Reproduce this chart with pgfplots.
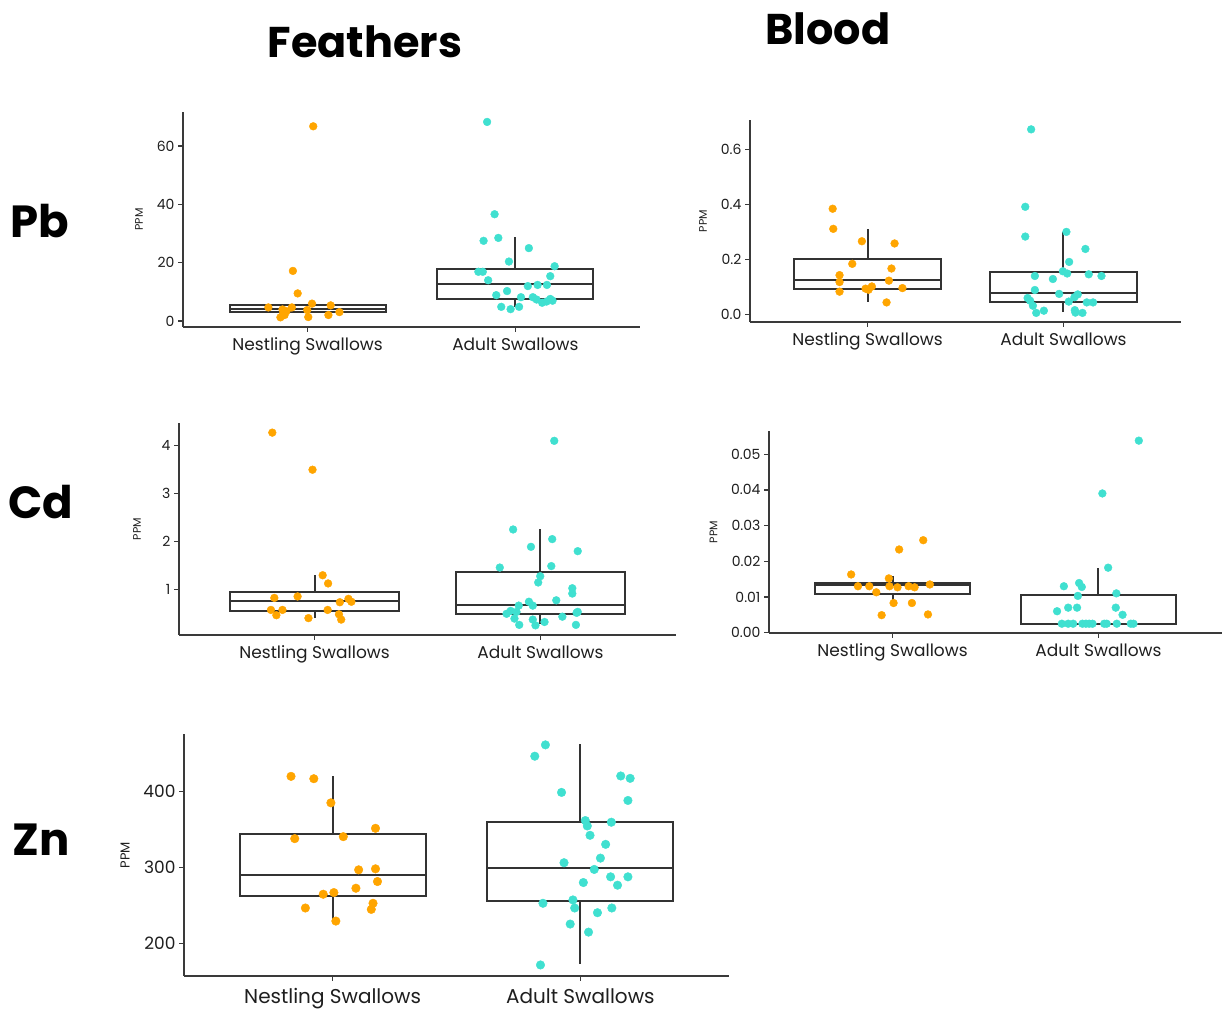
\documentclass[border=0pt]{standalone}
\usepackage{fontspec}
\setmainfont{Poppins}
\usepackage{pgfplots}
\pgfplotsset{compat=1.18}
\definecolor{orng}{HTML}{FFA500}
\definecolor{turq}{HTML}{40E0D0}
\definecolor{axc}{HTML}{3A3A3A}
\definecolor{boxc}{HTML}{333333}
\definecolor{txt}{HTML}{1E1E1E}
\pgfplotsset{
  swal/.style={
    scale only axis, anchor=south west, clip=false,
    axis x line*=bottom, axis y line*=left,
    axis line style={draw=axc, line width=1.3pt, -},
    x axis line style={-}, y axis line style={-},
    every tick/.style={draw=axc, line width=1.3pt},
    tick align=outside, major tick length=5pt,
    scaled y ticks=false,
    xmin=-0.6, xmax=1.6, xtick={0,1},
    xticklabels={Nestling Swallows, Adult Swallows},
    /pgf/number format/assume math mode=true,
    tick label style={font=\fontsize{14}{16}\selectfont, text=txt},
    x tick label style={font=\fontsize{17}{20}\selectfont, text=txt, yshift=-2pt},
    ylabel={PPM}, ylabel shift=7pt,
    ylabel style={font=\fontsize{11}{13}\selectfont, text=txt},
  },
  bx/.style={draw=boxc, line width=2pt, fill=white, solid, mark=none},
  bl/.style={draw=boxc, line width=2pt, solid, mark=none},
  ptn/.style={only marks, mark=*, mark size=3.9pt, color=orng},
  pta/.style={only marks, mark=*, mark size=3.9pt, color=turq},
}
% box: x-left, x-centre, x-right, lower whisker, q1, median, q3, upper whisker
\newcommand{\bbox}[8]{%
  \addplot[bl] coordinates {(#2,#4) (#2,#8)};
  \addplot[bx] coordinates {(#1,#5) (#3,#5) (#3,#7) (#1,#7)} --cycle;
  \addplot[bl] coordinates {(#1,#6) (#3,#6)};
}
\begin{document}
\begin{tikzpicture}[x=1pt,y=1pt]
\path[use as bounding box] (0,0) rectangle (1231,1014);
\node[font=\fontsize{43}{43}\selectfont\bfseries] at (365,972) {Feathers};
\node[font=\fontsize{43}{43}\selectfont\bfseries] at (828,985) {Blood};
\node[font=\fontsize{45}{45}\selectfont\bfseries] at (40,793) {Pb};
\node[font=\fontsize{45}{45}\selectfont\bfseries] at (41,512) {Cd};
\node[font=\fontsize{45}{45}\selectfont\bfseries] at (41,174) {Zn};

% ---------- Pb feathers
\begin{axis}[swal, at={(183pt,687pt)}, width=457pt, height=215pt,
  ymin=-2.0, ymax=71.6, ytick={0,20,40,60}, yticklabels={0,20,40,60}]
\bbox{-0.375}{0}{0.375}{1.3}{3.0}{4.2}{5.5}{6.0}
\bbox{0.625}{1}{1.375}{4.7}{7.5}{12.7}{17.7}{28.7}
\addplot[ptn] table {
x y
0.027 66.7
-0.071 17.2
-0.048 9.5
0.021 6.0
-0.189 4.7
-0.076 4.7
0.111 5.4
0.153 3.1
0.100 2.1
-0.002 3.8
0.003 1.4
-0.131 1.3
-0.118 2.6
-0.121 4.0
-0.102 3.4
-0.111 2.1
};
\addplot[pta] table {
x y
0.864 68.2
0.900 36.6
0.847 27.5
0.918 28.5
1.065 25.0
0.969 20.4
1.189 18.8
0.822 16.9
0.843 16.9
1.168 15.4
0.869 14.0
1.060 12.0
1.107 12.4
1.152 12.4
0.960 10.3
0.908 8.9
1.027 8.2
1.084 8.2
1.102 7.4
1.129 6.3
1.150 6.7
1.168 7.6
1.179 7.0
0.932 4.9
0.977 4.1
1.018 4.9
};
\end{axis}

% ---------- Pb blood
\begin{axis}[swal, at={(750pt,692pt)}, width=431pt, height=202pt,
  ymin=-0.026, ymax=0.707, ytick={0,0.2,0.4,0.6}, yticklabels={0.0,0.2,0.4,0.6}]
\bbox{-0.375}{0}{0.375}{0.048}{0.095}{0.125}{0.204}{0.313}
\bbox{0.625}{1}{1.375}{0.010}{0.047}{0.079}{0.155}{0.300}
\addplot[ptn] table {
x y
-0.178 0.385
-0.175 0.312
-0.029 0.267
0.138 0.259
-0.078 0.185
0.122 0.168
-0.143 0.144
-0.143 0.119
0.109 0.124
0.022 0.103
-0.010 0.095
0.005 0.091
0.178 0.097
-0.143 0.084
0.097 0.045
};
\addplot[pta] table {
x y
0.835 0.673
0.805 0.392
0.805 0.284
1.015 0.301
1.112 0.239
1.029 0.192
0.997 0.158
1.019 0.150
1.129 0.147
1.194 0.141
0.854 0.141
0.946 0.130
0.854 0.090
0.978 0.076
1.073 0.074
1.056 0.064
0.817 0.061
0.830 0.051
1.027 0.048
1.119 0.045
1.151 0.045
0.844 0.033
0.861 0.007
0.900 0.015
1.058 0.017
1.061 0.008
1.097 0.007
};
\end{axis}

% ---------- Cd feathers
\begin{axis}[swal, at={(179pt,379pt)}, width=497pt, height=212pt,
  ymin=0.06, ymax=4.46, ytick={1,2,3,4}, yticklabels={1,2,3,4}, ylabel shift=14pt]
\bbox{-0.375}{0}{0.375}{0.41}{0.55}{0.76}{0.95}{1.30}
\bbox{0.625}{1}{1.375}{0.29}{0.49}{0.68}{1.37}{2.25}
\addplot[ptn] table {
x y
-0.187 4.26
-0.009 3.49
0.036 1.30
0.060 1.13
-0.178 0.83
-0.075 0.86
0.150 0.81
0.112 0.74
0.163 0.75
-0.193 0.58
-0.142 0.58
0.058 0.58
-0.169 0.47
0.108 0.49
-0.027 0.41
0.118 0.38
};
\addplot[pta] table {
x y
1.061 4.09
0.879 2.25
1.052 2.05
0.958 1.89
1.165 1.80
0.820 1.46
1.048 1.49
0.999 1.28
0.990 1.15
1.141 1.03
1.141 0.92
1.070 0.78
0.949 0.75
0.904 0.67
0.966 0.67
0.868 0.56
0.850 0.50
0.894 0.54
1.165 0.54
1.160 0.52
1.097 0.44
0.885 0.40
0.966 0.38
1.018 0.33
0.906 0.27
0.978 0.26
1.157 0.27
};
\end{axis}

% ---------- Cd blood
\begin{axis}[swal, at={(769pt,381pt)}, width=453pt, height=202pt,
  ymin=-0.0001, ymax=0.0565, ytick={0,0.01,0.02,0.03,0.04,0.05},
  yticklabels={0.00,0.01,0.02,0.03,0.04,0.05}]
\bbox{-0.375}{0}{0.375}{0.0083}{0.01086}{0.0133}{0.01386}{0.016}
\bbox{0.625}{1}{1.375}{0.0025}{0.0025}{0.0025}{0.01067}{0.018}
\addplot[ptn] table {
x y
-0.201 0.0163
-0.168 0.0130
-0.113 0.0130
-0.079 0.0113
-0.018 0.0152
-0.015 0.0130
0.024 0.0127
0.078 0.0130
0.107 0.0127
0.181 0.0135
0.032 0.0233
0.149 0.0259
0.005 0.0083
0.094 0.0083
-0.053 0.0049
0.172 0.0051
};
\addplot[pta] table {
x y
1.196 0.0538
1.019 0.0390
1.047 0.0182
0.832 0.0130
0.906 0.0139
0.919 0.0128
1.087 0.0110
0.900 0.0103
0.853 0.0070
0.896 0.0070
1.084 0.0070
0.799 0.0060
1.117 0.0050
0.822 0.0025
0.853 0.0025
0.877 0.0025
0.922 0.0025
0.939 0.0025
0.955 0.0025
0.971 0.0025
1.028 0.0025
1.040 0.0025
1.089 0.0025
1.157 0.0025
1.170 0.0025
};
\end{axis}

% ---------- Zn feathers
\begin{axis}[swal, at={(184pt,38pt)}, width=545pt, height=242pt,
  ymin=157.3, ymax=475.5, ytick={200,300,400}, yticklabels={200,300,400},
  tick label style={font=\fontsize{17}{19}\selectfont, text=txt},
  x tick label style={font=\fontsize{20}{23}\selectfont, text=txt, yshift=-2pt},
  ylabel style={font=\fontsize{13}{15}\selectfont, text=txt}]
\bbox{-0.375}{0}{0.375}{231.3}{262.6}{290.3}{344.5}{420.7}
\bbox{0.625}{1}{1.375}{173.6}{256.4}{299.1}{360.0}{462}
\addplot[ptn, mark size=4.3pt] table {
x y
-0.168 419.8
-0.076 416.7
-0.007 385.0
0.173 351.5
-0.153 337.9
0.043 340.5
0.173 298.2
0.105 296.9
0.181 281.5
0.094 272.7
-0.038 264.8
0.005 267.0
0.163 252.9
-0.110 246.7
0.156 244.9
0.013 229.5
};
\addplot[pta, mark size=4.3pt] table {
x y
0.859 461.2
0.816 446.3
0.924 398.7
1.163 420.3
1.201 417.2
1.192 388.1
1.020 361.7
1.028 354.6
1.125 359.5
1.039 342.3
1.102 330.4
1.081 312.3
0.934 306.2
1.056 297.4
1.122 287.7
1.192 287.7
1.150 276.7
1.012 280.2
0.849 252.9
0.970 257.3
0.977 246.7
1.127 246.7
1.069 240.5
0.959 225.6
1.033 215.0
0.839 171.8
};
\end{axis}
\end{tikzpicture}
\end{document}
